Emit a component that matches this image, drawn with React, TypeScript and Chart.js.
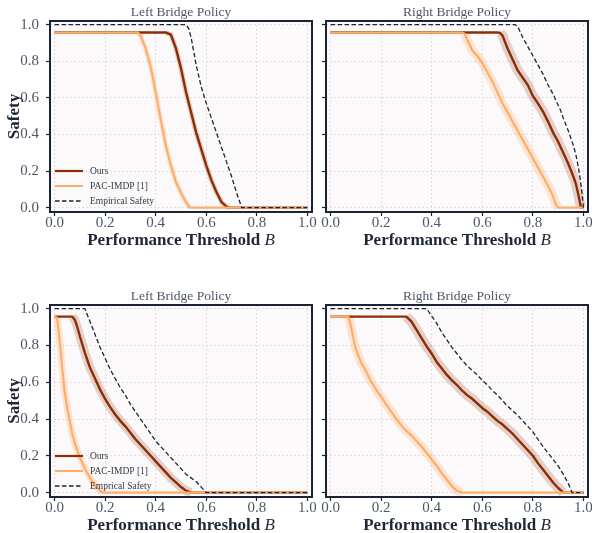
import React, { useEffect, useRef } from "react";
import { Chart, registerables } from "chart.js";
Chart.register(...registerables);

const FONT = "'Liberation Serif', 'DejaVu Serif', serif";

// ---------- data ----------
const TICKS = [0, 0.2, 0.4, 0.6, 0.8, 1.0];
const LEGEND_TOP = ["Ours", "PAC-IMDP [1]", "Empirical Safety"];
const LEGEND_BOTTOM = ["Ours", "PAC-IMDP [1]", "Emprical Safety"];
const TITLES = ["Left Bridge Policy", "Right Bridge Policy", "Left Bridge Policy", "Right Bridge Policy"];

// Top-left
const TL_OURS_X = [0, 0.44, 0.46, 0.48, 0.50, 0.52, 0.54, 0.56, 0.58, 0.60, 0.62, 0.64, 0.66, 0.68, 0.69, 1.0];
const TL_OURS_Y = [0.957, 0.957, 0.945, 0.87, 0.76, 0.63, 0.52, 0.41, 0.32, 0.23, 0.15, 0.085, 0.03, 0.005, 0, 0];
const TL_PAC_X = [0, 0.33, 0.34, 0.36, 0.38, 0.40, 0.42, 0.44, 0.46, 0.48, 0.50, 0.52, 0.535, 1.0];
const TL_PAC_Y = [0.957, 0.957, 0.94, 0.87, 0.77, 0.63, 0.48, 0.34, 0.23, 0.14, 0.08, 0.03, 0, 0];
const TL_EMP_X = [0, 0.52, 0.53, 0.54, 0.56, 0.58, 0.60, 0.62, 0.64, 0.66, 0.68, 0.70, 0.72, 0.74, 1.0];
const TL_EMP_Y = [1, 1, 0.98, 0.93, 0.78, 0.66, 0.57, 0.49, 0.41, 0.33, 0.25, 0.17, 0.08, 0, 0];

// Top-right
const TR_OURS_X = [0, 0.66, 0.67, 0.68, 0.70, 0.72, 0.74, 0.76, 0.78, 0.80, 0.82, 0.84, 0.86, 0.88, 0.90, 0.92, 0.94, 0.96, 0.97, 0.98, 0.99, 1.0];
const TR_OURS_Y = [0.957, 0.957, 0.955, 0.94, 0.87, 0.81, 0.75, 0.71, 0.67, 0.61, 0.57, 0.525, 0.47, 0.41, 0.36, 0.30, 0.24, 0.17, 0.13, 0.07, 0, 0];
const TR_PAC_X = [0, 0.52, 0.53, 0.54, 0.55, 0.56, 0.58, 0.60, 0.62, 0.64, 0.66, 0.68, 0.70, 0.72, 0.74, 0.76, 0.78, 0.80, 0.82, 0.84, 0.86, 0.88, 0.89, 0.90, 1.0];
const TR_PAC_Y = [0.957, 0.957, 0.95, 0.92, 0.89, 0.86, 0.83, 0.79, 0.74, 0.69, 0.63, 0.57, 0.52, 0.47, 0.42, 0.37, 0.32, 0.27, 0.22, 0.17, 0.12, 0.06, 0.02, 0, 0];
const TR_EMP_X = [0, 0.73, 0.74, 0.76, 0.78, 0.80, 0.82, 0.84, 0.86, 0.88, 0.90, 0.91, 0.92, 0.94, 0.96, 0.97, 0.98, 0.99, 1.0];
const TR_EMP_Y = [1, 1, 0.99, 0.93, 0.88, 0.83, 0.78, 0.73, 0.67, 0.62, 0.56, 0.53, 0.49, 0.42, 0.34, 0.29, 0.22, 0.13, 0];

// Bottom-left
const BL_OURS_X = [0, 0.07, 0.08, 0.09, 0.10, 0.12, 0.14, 0.16, 0.18, 0.20, 0.22, 0.24, 0.26, 0.28, 0.30, 0.32, 0.34, 0.36, 0.38, 0.40, 0.42, 0.44, 0.46, 0.48, 0.50, 0.52, 0.54, 1.0];
const BL_OURS_Y = [0.957, 0.957, 0.94, 0.90, 0.85, 0.76, 0.68, 0.62, 0.56, 0.51, 0.465, 0.425, 0.39, 0.36, 0.325, 0.29, 0.26, 0.23, 0.20, 0.17, 0.14, 0.11, 0.08, 0.055, 0.03, 0.01, 0, 0];
const BL_PAC_X = [0, 0.01, 0.02, 0.03, 0.04, 0.05, 0.06, 0.07, 0.08, 0.09, 0.10, 0.12, 0.14, 0.16, 0.18, 0.19, 1.0];
const BL_PAC_Y = [0.957, 0.95, 0.83, 0.68, 0.55, 0.46, 0.39, 0.32, 0.27, 0.23, 0.19, 0.13, 0.08, 0.04, 0.01, 0, 0];
const BL_EMP_X = [0, 0.12, 0.14, 0.16, 0.18, 0.20, 0.22, 0.24, 0.26, 0.28, 0.30, 0.32, 0.34, 0.36, 0.38, 0.40, 0.42, 0.44, 0.46, 0.48, 0.50, 0.52, 0.54, 0.56, 0.58, 0.60, 1.0];
const BL_EMP_Y = [1, 1, 0.93, 0.86, 0.79, 0.73, 0.67, 0.62, 0.57, 0.53, 0.48, 0.44, 0.40, 0.36, 0.32, 0.28, 0.25, 0.22, 0.19, 0.16, 0.13, 0.10, 0.08, 0.06, 0.03, 0, 0];

// Bottom-right
const BR_OURS_X = [0, 0.30, 0.32, 0.34, 0.36, 0.38, 0.40, 0.42, 0.44, 0.46, 0.48, 0.50, 0.52, 0.54, 0.56, 0.58, 0.60, 0.62, 0.64, 0.66, 0.68, 0.70, 0.72, 0.74, 0.76, 0.78, 0.80, 0.82, 0.84, 0.86, 0.88, 0.90, 0.92, 1.0];
const BR_OURS_Y = [0.957, 0.957, 0.93, 0.885, 0.84, 0.795, 0.755, 0.71, 0.675, 0.64, 0.61, 0.585, 0.555, 0.53, 0.51, 0.485, 0.46, 0.44, 0.415, 0.39, 0.37, 0.345, 0.32, 0.29, 0.26, 0.23, 0.20, 0.16, 0.125, 0.09, 0.055, 0.025, 0, 0];
const BR_PAC_X = [0, 0.07, 0.08, 0.09, 0.10, 0.12, 0.14, 0.16, 0.18, 0.20, 0.22, 0.24, 0.26, 0.28, 0.30, 0.32, 0.34, 0.36, 0.38, 0.40, 0.42, 0.44, 0.46, 0.48, 0.50, 0.52, 1.0];
const BR_PAC_Y = [0.957, 0.957, 0.91, 0.84, 0.78, 0.71, 0.66, 0.605, 0.56, 0.52, 0.48, 0.44, 0.40, 0.365, 0.335, 0.31, 0.28, 0.25, 0.215, 0.18, 0.145, 0.105, 0.07, 0.035, 0.01, 0, 0];
const BR_EMP_X = [0, 0.38, 0.40, 0.42, 0.44, 0.46, 0.48, 0.50, 0.52, 0.54, 0.56, 0.58, 0.60, 0.62, 0.64, 0.66, 0.68, 0.70, 0.72, 0.74, 0.76, 0.78, 0.80, 0.82, 0.84, 0.86, 0.88, 0.90, 0.92, 0.94, 0.955, 1.0];
const BR_EMP_Y = [1, 1, 0.96, 0.92, 0.87, 0.83, 0.79, 0.755, 0.72, 0.69, 0.665, 0.64, 0.61, 0.585, 0.555, 0.53, 0.50, 0.47, 0.445, 0.42, 0.39, 0.36, 0.33, 0.29, 0.25, 0.215, 0.18, 0.145, 0.10, 0.05, 0, 0];

// ---------- styles ----------
const OURS_COLOR = "#8c2d04";
const PAC_COLOR = "#fdae6b";
const EMP_COLOR = "#1c2336";
const OURS_BAND = "rgba(140,45,4,0.2)";
const PAC_BAND = "rgba(253,174,107,0.28)";
const FRAME = "#1c2336";
const TICK_TEXT = "#4f5668";

const zip = (xs: number[], ys: number[]) => xs.map((x, i) => ({ x, y: ys[i] }));

type PanelProps = {
  left: number; top: number; width: number; height: number;
  L: number; R: number; T: number; B: number;
  title: string;
  ours: [number[], number[]]; pac: [number[], number[]]; emp: [number[], number[]];
  legend: string[] | null;
  showY: boolean;
  oursBandW: number; pacBandW: number;
};

function Panel(p: PanelProps) {
  const ref = useRef<HTMLCanvasElement | null>(null);
  useEffect(() => {
    const XH = 34;
    const bandSeg = (color: string) => (c: any) => {
      const a = c.p0.parsed.y, b = c.p1.parsed.y;
      if ((a >= 0.95 && b >= 0.95) || (a <= 0 && b <= 0)) return "rgba(0,0,0,0)";
      return color;
    };
    const decor = {
      id: "decor",
      beforeDraw(chart: any) {
        const { ctx, chartArea: ca } = chart;
        ctx.save();
        ctx.fillStyle = "#fcf9fa";
        ctx.fillRect(ca.left, ca.top, ca.right - ca.left, ca.bottom - ca.top);
        ctx.restore();
      },
      afterDatasetsDraw(chart: any) {
        const { ctx, chartArea: ca } = chart;
        ctx.save();
        ctx.strokeStyle = FRAME;
        ctx.lineWidth = 2;
        ctx.strokeRect(ca.left, ca.top, ca.right - ca.left, ca.bottom - ca.top);
        if (p.legend) {
          const offs = [41, 26, 11];
          const styles = [
            { c: OURS_COLOR, w: 2.2, d: [] as number[] },
            { c: PAC_COLOR, w: 2, d: [] as number[] },
            { c: EMP_COLOR, w: 1.3, d: [4.5, 2.5] },
          ];
          p.legend.forEach((label, i) => {
            const y = ca.bottom - offs[i];
            const s = styles[i];
            ctx.beginPath();
            ctx.strokeStyle = s.c;
            ctx.lineWidth = s.w;
            ctx.setLineDash(s.d);
            ctx.moveTo(ca.left + 5, y);
            ctx.lineTo(ca.left + 33, y);
            ctx.stroke();
            ctx.setLineDash([]);
            ctx.fillStyle = "#333a48";
            ctx.font = `9.5px ${FONT}`;
            ctx.textBaseline = "middle";
            ctx.textAlign = "left";
            ctx.fillText(label, ca.left + 40, y);
          });
        }
        ctx.restore();
      },
      afterDraw(chart: any) {
        const { ctx, chartArea: ca } = chart;
        const cx = (ca.left + ca.right) / 2;
        ctx.save();
        // panel title
        ctx.fillStyle = TICK_TEXT;
        ctx.font = `13.5px ${FONT}`;
        ctx.textAlign = "center";
        ctx.textBaseline = "middle";
        ctx.fillText(p.title, cx, ca.top - 9);
        // x title
        const t1 = "Performance Threshold ";
        ctx.font = `bold 17px ${FONT}`;
        const w1 = ctx.measureText(t1).width;
        ctx.font = `italic 17px ${FONT}`;
        const w2 = ctx.measureText("B").width;
        const x0 = cx - (w1 + w2) / 2;
        const ty = ca.bottom + 29;
        ctx.fillStyle = "#1f2638";
        ctx.textAlign = "left";
        ctx.font = `bold 17px ${FONT}`;
        ctx.fillText(t1, x0, ty);
        ctx.font = `italic 17px ${FONT}`;
        ctx.fillText("B", x0 + w1, ty);
        // y title
        if (p.showY) {
          ctx.translate(15, (ca.top + ca.bottom) / 2);
          ctx.rotate(-Math.PI / 2);
          ctx.textAlign = "center";
          ctx.font = `bold 17px ${FONT}`;
          ctx.fillText("Safety", 0, 0);
        }
        ctx.restore();
      },
    };

    const grid = {
      color: "#ddd7dc",
      lineWidth: 0.8,
      tickColor: FRAME,
      tickLength: 4,
      tickWidth: 1.2,
      tickBorderDash: [],
    };
    const chart = new Chart(ref.current as HTMLCanvasElement, {
      type: "line",
      data: {
        datasets: [
          { label: "emp", data: zip(p.emp[0], p.emp[1]), borderColor: EMP_COLOR, borderWidth: 1.3, borderDash: [4.5, 2.5], pointRadius: 0, order: 0 },
          { label: "pac", data: zip(p.pac[0], p.pac[1]), borderColor: PAC_COLOR, borderWidth: 2.2, pointRadius: 0, order: 1 },
          { label: "ours", data: zip(p.ours[0], p.ours[1]), borderColor: OURS_COLOR, borderWidth: 2.4, pointRadius: 0, order: 2 },
          { label: "pacBand", data: zip(p.pac[0], p.pac[1]), borderColor: PAC_BAND, borderWidth: p.pacBandW, borderJoinStyle: "round", pointRadius: 0, order: 3, segment: { borderColor: bandSeg(PAC_BAND) } },
          { label: "oursBand", data: zip(p.ours[0], p.ours[1]), borderColor: OURS_BAND, borderWidth: p.oursBandW, borderJoinStyle: "round", pointRadius: 0, order: 4, segment: { borderColor: bandSeg(OURS_BAND) } },
        ] as any,
      },
      options: {
        animation: false,
        responsive: false,
        events: [],
        layout: { padding: { left: 0, top: p.T, right: p.width - p.R, bottom: p.height - p.B - XH } },
        plugins: { legend: { display: false }, tooltip: { enabled: false }, title: { display: false } },
        elements: { line: { tension: 0 } },
        scales: {
          x: {
            type: "linear",
            min: -0.018,
            max: 1.018,
            afterBuildTicks: (s: any) => { s.ticks = TICKS.map((v) => ({ value: v })); },
            afterFit: (s: any) => { s.height = XH; },
            ticks: { color: TICK_TEXT, font: { family: FONT, size: 15 }, padding: -2, maxRotation: 0, callback: (v: any) => Number(v).toFixed(1) },
            grid: grid as any,
            border: { display: false, dash: [2, 2] },
          },
          y: {
            type: "linear",
            min: -0.024,
            max: 1.02,
            afterBuildTicks: (s: any) => { s.ticks = TICKS.map((v) => ({ value: v })); },
            afterFit: (s: any) => { s.width = p.L; },
            ticks: { color: TICK_TEXT, font: { family: FONT, size: 15 }, padding: 7, callback: (v: any) => (p.showY ? Number(v).toFixed(1) : "") },
            grid: grid as any,
            border: { display: false, dash: [2, 2] },
          },
        },
      } as any,
      plugins: [decor],
    });
    return () => chart.destroy();
  }, []);
  return (
    <canvas
      ref={ref}
      width={p.width}
      height={p.height}
      style={{ position: "absolute", left: p.left, top: p.top, width: p.width, height: p.height }}
    />
  );
}

export default function App() {
  return (
    <div style={{ position: "fixed", left: 0, top: 0, width: 592, height: 533, overflow: "hidden", background: "#ffffff" }}>
      <Panel left={0} top={0} width={330} height={266} L={50} R={312} T={21} B={212} title={TITLES[0]}
        ours={[TL_OURS_X, TL_OURS_Y]} pac={[TL_PAC_X, TL_PAC_Y]} emp={[TL_EMP_X, TL_EMP_Y]} legend={LEGEND_TOP} showY={true} oursBandW={5} pacBandW={5} />
      <Panel left={318} top={0} width={300} height={266} L={8} R={270} T={21} B={212} title={TITLES[1]}
        ours={[TR_OURS_X, TR_OURS_Y]} pac={[TR_PAC_X, TR_PAC_Y]} emp={[TR_EMP_X, TR_EMP_Y]} legend={null} showY={false} oursBandW={10} pacBandW={9} />
      <Panel left={0} top={284} width={330} height={249} L={50} R={312} T={21} B={213} title={TITLES[2]}
        ours={[BL_OURS_X, BL_OURS_Y]} pac={[BL_PAC_X, BL_PAC_Y]} emp={[BL_EMP_X, BL_EMP_Y]} legend={LEGEND_BOTTOM} showY={true} oursBandW={9} pacBandW={7} />
      <Panel left={318} top={284} width={300} height={249} L={8} R={270} T={21} B={213} title={TITLES[3]}
        ours={[BR_OURS_X, BR_OURS_Y]} pac={[BR_PAC_X, BR_PAC_Y]} emp={[BR_EMP_X, BR_EMP_Y]} legend={null} showY={false} oursBandW={10} pacBandW={9} />
    </div>
  );
}
